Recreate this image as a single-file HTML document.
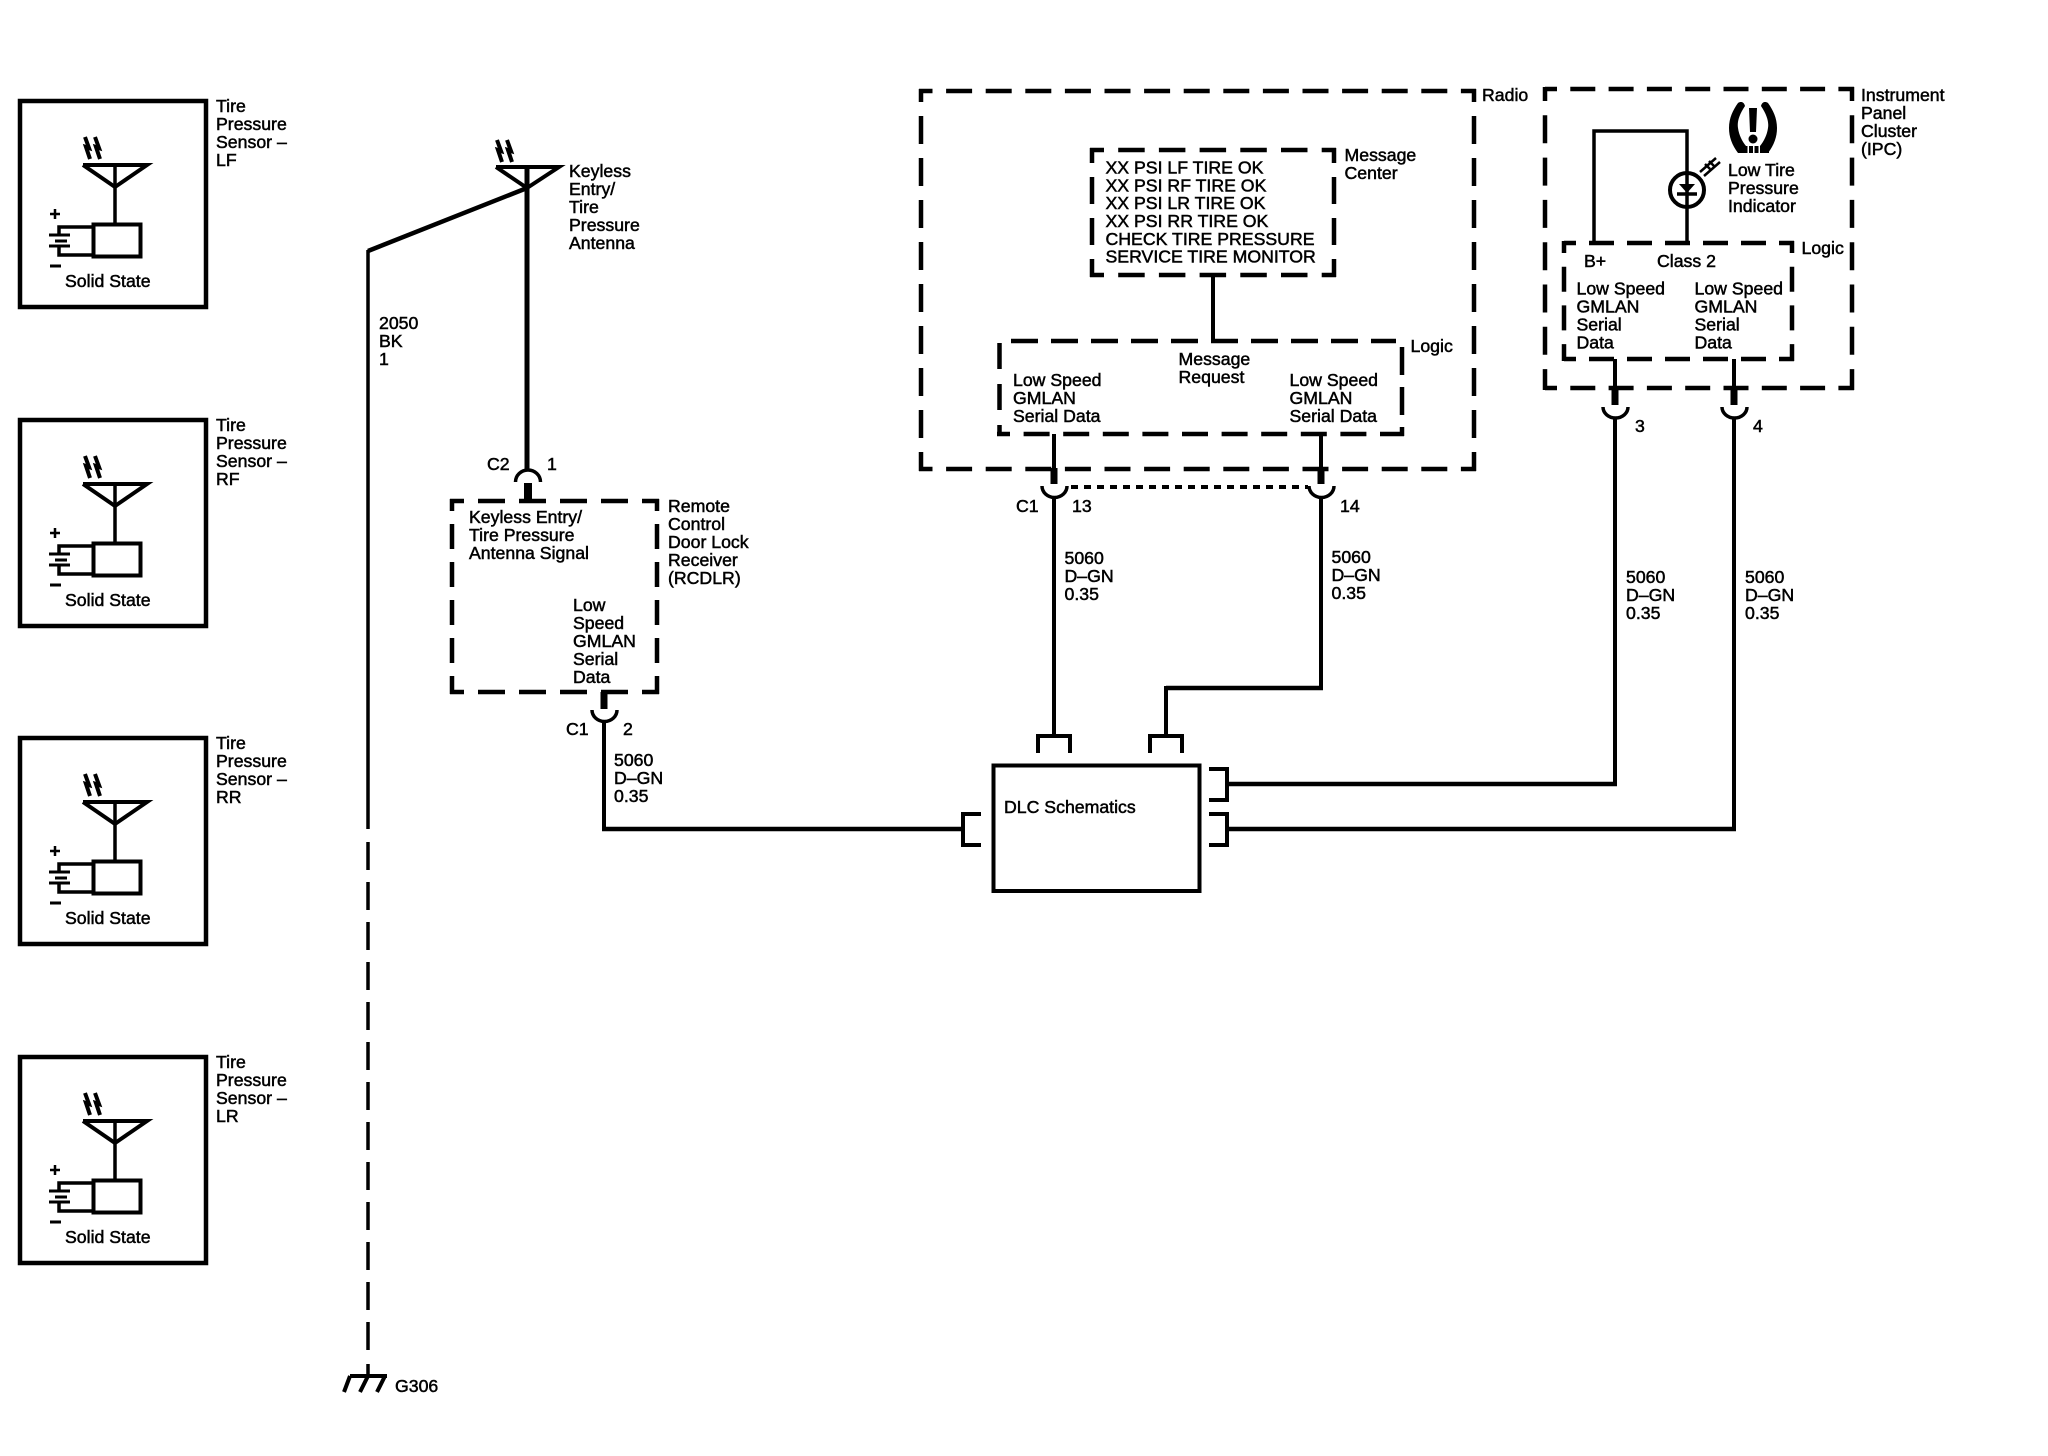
<!DOCTYPE html>
<html><head><meta charset="utf-8"><title>Tire Pressure Monitoring Schematic</title>
<style>
html,body{margin:0;padding:0;background:#fff}
svg{display:block}
text{font-family:"Liberation Sans",sans-serif;font-size:17.7px;fill:#000;stroke:#000;stroke-width:.5px}
.l{fill:none;stroke:#000;stroke-linecap:butt;stroke-linejoin:miter}
</style></head><body>
<svg xmlns="http://www.w3.org/2000/svg" width="2048" height="1456" viewBox="0 0 2048 1456">
<rect width="2048" height="1456" fill="#fff"/>
<defs>
<g id="s">
<rect class="l" x="20" y="2" width="186" height="206" stroke-width="4.5"/>
<path class="l" stroke-width="4" d="M85 38l4 11-3-1 4 12M95 38l4 11-3-1 4 12"/>
<path class="l" stroke-width="4" d="M83 66H147L115 88 83 66"/>
<path class="l" stroke-width="3.5" d="M115 66V124"/>
<rect class="l" x="93.5" y="125.5" width="47" height="32" stroke-width="4"/>
<path class="l" stroke-width="3.5" d="M93 128H59V136M59 148V156H93"/>
<path class="l" stroke-width="3" d="M49 136H70M49 147H70"/>
<path class="l" stroke-width="3" d="M55 142H67"/>
<path class="l" stroke-width="2.5" d="M50 115H60M55 110V120"/>
<path class="l" stroke-width="3" d="M50 167H61"/>
</g>
</defs>

<use href="#s" x="0" y="99"/>
<use href="#s" x="0" y="418"/>
<use href="#s" x="0" y="736"/>
<use href="#s" x="0" y="1055"/>

<text x="216" y="112">Tire</text><text x="216" y="130">Pressure</text><text x="216" y="148">Sensor –</text><text x="216" y="166">LF</text><text x="65" y="287">Solid State</text>
<text x="216" y="431">Tire</text><text x="216" y="449">Pressure</text><text x="216" y="467">Sensor –</text><text x="216" y="485">RF</text><text x="65" y="606">Solid State</text>
<text x="216" y="749">Tire</text><text x="216" y="767">Pressure</text><text x="216" y="785">Sensor –</text><text x="216" y="803">RR</text><text x="65" y="924">Solid State</text>
<text x="216" y="1068">Tire</text><text x="216" y="1086">Pressure</text><text x="216" y="1104">Sensor –</text><text x="216" y="1122">LR</text><text x="65" y="1243">Solid State</text>

<!-- Main antenna -->
<path class="l" stroke-width="4" d="M497 140l4 11-3-1 4 12M507 140l4 11-3-1 4 12"/>
<path class="l" stroke-width="4" d="M496 167H559L527 188 496 167"/>
<path class="l" stroke-width="5" d="M527 167V470"/>
<path class="l" stroke-width="4.5" d="M527 188L368 251"/>
<path class="l" stroke-width="3.5" d="M368 250V829"/>
<path class="l" stroke-width="3.5" stroke-dasharray="28 12" d="M368 842V1351"/>
<path class="l" stroke-width="3.5" d="M368 1364V1376"/>
<path class="l" stroke-width="4" d="M350 1376H387M350 1376L344 1392M368 1376L360 1392M385 1376L377 1392"/>
<text x="395" y="1392">G306</text>
<text x="569" y="177">Keyless</text><text x="569" y="195">Entry/</text><text x="569" y="213">Tire</text><text x="569" y="231">Pressure</text><text x="569" y="249">Antenna</text>
<text x="379" y="329">2050</text><text x="379" y="347">BK</text><text x="379" y="365">1</text>

<!-- C2 connector -->
<path class="l" stroke-width="3.5" d="M515.5 482a12.5 12 0 0 1 25 0"/>
<path class="l" stroke-width="8" d="M528 483V501"/>
<text x="487" y="470">C2</text><text x="547" y="470">1</text>

<!-- RCDLR -->
<g class="l" stroke-width="4.5">
<path stroke-dasharray="27 14" stroke-dashoffset="13" d="M450 501H659M450 692H659"/>
<path stroke-dasharray="25 13" stroke-dashoffset="13" d="M452 499V694M657 499V694"/>
</g>
<text x="469" y="523">Keyless Entry/</text><text x="469" y="541">Tire Pressure</text><text x="469" y="559">Antenna Signal</text>
<text x="573" y="611">Low</text><text x="573" y="629">Speed</text><text x="573" y="647">GMLAN</text><text x="573" y="665">Serial</text><text x="573" y="683">Data</text>
<text x="668" y="512">Remote</text><text x="668" y="530">Control</text><text x="668" y="548">Door Lock</text><text x="668" y="566">Receiver</text><text x="668" y="584">(RCDLR)</text>
<path class="l" stroke-width="7" d="M604 692V709"/>
<path class="l" stroke-width="3.5" d="M592 710a12.5 11.5 0 0 0 25 0"/>
<path class="l" stroke-width="4" d="M604 721V829"/>
<path class="l" stroke-width="4.5" d="M602 829H963"/>
<text x="566" y="735">C1</text><text x="623" y="735">2</text>
<text x="614" y="766">5060</text><text x="614" y="784">D–GN</text><text x="614" y="802">0.35</text>

<!-- Radio -->
<g class="l" stroke-width="4.5">
<path stroke-dasharray="26 13.6" stroke-dashoffset="12.5" d="M919 91H1476M919 469H1476"/>
<path stroke-dasharray="28 14" stroke-dashoffset="15" d="M921 89V471M1474 89V471"/>
</g>
<text x="1482" y="101">Radio</text>
<g class="l" stroke-width="4.5">
<path stroke-dasharray="26.5 14.2" stroke-dashoffset="12.5" d="M1090 150H1336M1090 275H1336"/>
<path stroke-dasharray="27 14" stroke-dashoffset="12" d="M1092 148V277M1334 148V277"/>
</g>
<text x="1344.5" y="161">Message</text><text x="1344.5" y="179">Center</text>
<text x="1105.5" y="173.5">XX PSI LF TIRE OK</text><text x="1105.5" y="191.5">XX PSI RF TIRE OK</text><text x="1105.5" y="209">XX PSI LR TIRE OK</text><text x="1105.5" y="227">XX PSI RR TIRE OK</text><text x="1105.5" y="245">CHECK TIRE PRESSURE</text><text x="1105.5" y="262.5">SERVICE TIRE MONITOR</text>
<path class="l" stroke-width="4" d="M1213 275V341"/>
<g class="l" stroke-width="4.5">
<path stroke-dasharray="27 13" stroke-dashoffset="28" d="M999 341H1396"/>
<path stroke-dasharray="26 13.6" stroke-dashoffset="13" d="M997 434H1404"/>
<path stroke-dasharray="26 15" d="M999.5 343V436"/>
<path stroke-dasharray="28 12" d="M1402 347V436"/>
</g>
<text x="1410.5" y="352">Logic</text>
<text x="1178.5" y="365">Message</text><text x="1178.5" y="383">Request</text>
<text x="1013" y="386">Low Speed</text><text x="1013" y="404">GMLAN</text><text x="1013" y="422">Serial Data</text>
<text x="1289.5" y="386">Low Speed</text><text x="1289.5" y="404">GMLAN</text><text x="1289.5" y="422">Serial Data</text>

<path class="l" stroke-width="4" d="M1054 434V470M1321 434V470"/>
<path class="l" stroke-width="7" d="M1054 468V484M1321 468V484"/>
<path class="l" stroke-width="3.5" d="M1042 486a12.5 11.5 0 0 0 25 0M1309 486a12.5 11.5 0 0 0 25 0"/>
<path class="l" stroke-width="4" stroke-dasharray="7 6" d="M1071 487H1308"/>
<path class="l" stroke-width="4" d="M1054 497V735"/>
<path class="l" stroke-width="4" d="M1321 497V688"/>
<path class="l" stroke-width="4.5" d="M1323 688H1166"/>
<path class="l" stroke-width="4" d="M1166 686V735"/>
<text x="1016" y="512">C1</text><text x="1072" y="512">13</text><text x="1340" y="512">14</text>
<text x="1064.5" y="564">5060</text><text x="1064.5" y="582">D–GN</text><text x="1064.5" y="600">0.35</text>
<text x="1331.5" y="563">5060</text><text x="1331.5" y="581">D–GN</text><text x="1331.5" y="599">0.35</text>

<!-- IPC -->
<g class="l" stroke-width="4.5">
<path stroke-dasharray="25 13.3" stroke-dashoffset="13" d="M1545 89H1854M1545 388H1854"/>
<path stroke-dasharray="28 14.3" stroke-dashoffset="14" d="M1545 87V390M1852 87V390"/>
</g>
<text x="1861" y="101">Instrument</text><text x="1861" y="119">Panel</text><text x="1861" y="137">Cluster</text><text x="1861" y="155">(IPC)</text>
<path class="l" stroke-width="3.5" d="M1594 243V131H1687V243"/>
<circle class="l" cx="1687" cy="190" r="17" stroke-width="4" fill="#fff"/>
<path d="M1679 184H1695L1687 193Z" fill="#000"/>
<path class="l" stroke-width="3.5" d="M1677 194H1697"/>
<path class="l" stroke-width="2.5" d="M1700 172L1716 158M1704 176L1720 162M1705 164l5 5M1709 161l5 5"/>
<path fill="#000" d="M1738 103C1741 101 1744 102 1745 106C1739 115 1737 122 1738 128C1739 135 1742 141 1746 146V153H1738C1732 145 1729 137 1729 128C1729 118 1733 110 1738 103Z"/>
<path fill="#000" d="M1768 103C1765 101 1762 102 1761 106C1767 115 1769 122 1768 128C1767 135 1764 141 1760 146V153H1768C1774 145 1777 137 1777 128C1777 118 1773 110 1768 103Z"/>
<path class="l" stroke-width="7" stroke-dasharray="4 1.5" d="M1738 149.5H1769"/>
<path d="M1749 108H1757L1756 132H1750Z" fill="#000"/>
<circle cx="1753" cy="139" r="4.5" fill="#000"/>
<text x="1728" y="176">Low Tire</text><text x="1728" y="194">Pressure</text><text x="1728" y="212">Indicator</text>
<g class="l" stroke-width="4.5">
<path stroke-dasharray="25 13" stroke-dashoffset="13" d="M1564 243H1794M1564 359H1794"/>
<path stroke-dasharray="25 13.7" stroke-dashoffset="13" d="M1564 241V361M1792 241V361"/>
</g>
<text x="1801.5" y="254">Logic</text>
<text x="1584" y="267">B+</text><text x="1657" y="267">Class 2</text>
<text x="1576.5" y="294.5">Low Speed</text><text x="1576.5" y="312.5">GMLAN</text><text x="1576.5" y="330.5">Serial</text><text x="1576.5" y="348.5">Data</text>
<text x="1694.5" y="294.5">Low Speed</text><text x="1694.5" y="312.5">GMLAN</text><text x="1694.5" y="330.5">Serial</text><text x="1694.5" y="348.5">Data</text>
<path class="l" stroke-width="4" d="M1615 359V390M1734 359V390"/>
<path class="l" stroke-width="7" d="M1615 388V405M1734 388V405"/>
<path class="l" stroke-width="3.5" d="M1603 407a12.5 11 0 0 0 25 0M1722 407a12.5 11 0 0 0 25 0"/>
<path class="l" stroke-width="4" d="M1615 418V786"/>
<path class="l" stroke-width="4.5" d="M1617 784H1227"/>
<path class="l" stroke-width="4" d="M1734 418V831"/>
<path class="l" stroke-width="4.5" d="M1736 829H1227"/>
<text x="1635" y="432">3</text><text x="1753" y="432">4</text>
<text x="1626" y="583">5060</text><text x="1626" y="601">D–GN</text><text x="1626" y="619">0.35</text>
<text x="1745" y="583">5060</text><text x="1745" y="601">D–GN</text><text x="1745" y="619">0.35</text>

<!-- DLC -->
<rect class="l" x="999" y="768" width="0" height="0" style="display:none"/>
<rect class="l" x="999" y="765.5" width="200.5" height="125.5" stroke-width="4" style="display:none"/>
<rect class="l" x="993.5" y="765.5" width="206" height="125.5" stroke-width="4"/>
<text x="1004" y="813">DLC Schematics</text>
<path class="l" stroke-width="4" d="M1038 753V736H1070V753"/>
<path class="l" stroke-width="4" d="M1150 753V736H1182V753"/>
<path class="l" stroke-width="4" d="M1209 769H1227V800H1209"/>
<path class="l" stroke-width="4" d="M1209 814H1227V845H1209"/>
<path class="l" stroke-width="4" d="M981 814H963V845H981"/>
</svg>
</body></html>
